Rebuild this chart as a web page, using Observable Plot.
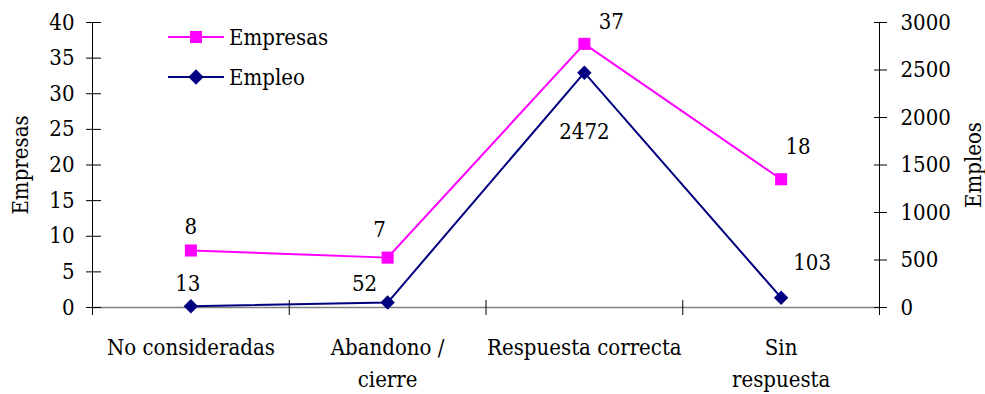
<!DOCTYPE html>
<html>
<head>
<meta charset="utf-8">
<script src="https://cdn.jsdelivr.net/npm/d3@7"></script>
<script src="https://cdn.jsdelivr.net/npm/@observablehq/plot@0.6"></script>
<style>
  html, body { margin: 0; padding: 0; background: #fff; }
  #wrap { position: relative; width: 985px; height: 394px; }
  #wrap svg text { font-family: "DejaVu Serif Condensed", "DejaVu Serif", serif !important; font-stretch: condensed; }
  #legend { position: absolute; left: 0; top: 0; pointer-events: none; }
</style>
</head>
<body>
<div id="wrap"></div>
<script>
const categories = ["No consideradas", "Abandono /\ncierre", "Respuesta correcta", "Sin\nrespuesta"];
const empresas = [8, 7, 37, 18];
const empleo = [13, 52, 2472, 103];
const leftTicks = [0, 5, 10, 15, 20, 25, 30, 35, 40];
const rightTicks = [0, 500, 1000, 1500, 2000, 2500, 3000];
const seriesNames = ["Empresas", "Empleo"];

const FS = 22;
const ratio = 40 / 3000;
const rows = categories.map((c, i) => ({i, c, x: i + 0.5, emp: empresas[i], jobs: String(empleo[i]), jobsY: empleo[i] * ratio}));

const MAG = "#FF00FF", NAVY = "#000080";

const empOff = [[0, -24], [-8, -28], [27, -22], [17, -32]];
const jobOff = [[-3, -22], [-23, -19], [0, 59], [31, -35]];

const marks = [
  Plot.ruleY([0], {stroke: "#808080", strokeWidth: 1.5}),
  Plot.ruleX([0], {stroke: "#000", strokeWidth: 1}),
  Plot.ruleX([4], {stroke: "#000", strokeWidth: 1}),
  Plot.axisY({anchor: "left", ticks: leftTicks, tickSize: 6, tickPadding: 12, label: "Empresas", labelArrow: "none", labelAnchor: "center", labelOffset: 80}),
  Plot.axisY({anchor: "left", ticks: leftTicks, tickSize: -9, tickFormat: () => "", label: null}),
  Plot.axisY({anchor: "right", ticks: rightTicks.map(v => v * ratio), tickFormat: d => String(Math.round(d / ratio)), tickSize: 7, tickPadding: 14, label: "Empleos", labelArrow: "none", labelAnchor: "center", labelOffset: 101}),
  Plot.axisY({anchor: "right", ticks: rightTicks.map(v => v * ratio), tickSize: -6, tickFormat: () => "", label: null}),
  Plot.axisX({ticks: [0, 1, 2, 3, 4], tickSize: 8, tickFormat: () => "", label: null}),
  Plot.axisX({ticks: [0, 1, 2, 3, 4], tickSize: -7, tickFormat: () => "", label: null}),
  Plot.text(rows, {x: "x", y: 0, text: "c", dy: 24, lineAnchor: "top", lineHeight: 1.48, fontSize: FS}),
  Plot.line(rows, {x: "x", y: "emp", stroke: MAG, strokeWidth: 2}),
  Plot.line(rows, {x: "x", y: "jobsY", stroke: NAVY, strokeWidth: 2}),
  Plot.dot(rows, {x: "x", y: "emp", symbol: "square", r: 6.8, fill: MAG, stroke: "none"}),
  Plot.dot(rows, {x: "x", y: "jobsY", symbol: "diamond2", r: 6.5, fill: NAVY, stroke: "none"}),
  ...rows.map((d, k) => Plot.text([d], {x: "x", y: "emp", text: "emp", dx: empOff[k][0], dy: empOff[k][1], fontSize: FS})),
  ...rows.map((d, k) => Plot.text([d], {x: "x", y: "jobsY", text: "jobs", dx: jobOff[k][0], dy: jobOff[k][1], fontSize: FS}))
];

const chart = Plot.plot({
  width: 985,
  height: 394,
  marginLeft: 92,
  marginRight: 106,
  marginTop: 22,
  marginBottom: 87,
  style: {fontFamily: "DejaVu Serif", fontSize: FS + "px", background: "#fff", color: "#000", overflow: "visible"},
  x: {type: "linear", domain: [0, 4], axis: null},
  y: {domain: [0, 40], axis: null},
  marks
});
const wrap = document.getElementById("wrap");
wrap.appendChild(chart);

// legend overlay
const leg = d3.select(wrap).append("svg").attr("id", "legend").attr("width", 985).attr("height", 394);
const items = [
  {name: seriesNames[0], color: MAG, sym: d3.symbolSquare, size: 144, y: 37},
  {name: seriesNames[1], color: NAVY, sym: d3.symbolDiamond2, size: 150, y: 77}
];
for (const it of items) {
  leg.append("line").attr("x1", 168).attr("x2", 224).attr("y1", it.y).attr("y2", it.y).attr("stroke", it.color).attr("stroke-width", 2);
  leg.append("path").attr("d", d3.symbol(it.sym, it.size)()).attr("transform", `translate(196,${it.y})`).attr("fill", it.color);
  leg.append("text").attr("x", 229).attr("y", it.y).attr("dy", "0.35em").attr("font-size", FS).text(it.name);
}
</script>
</body>
</html>
